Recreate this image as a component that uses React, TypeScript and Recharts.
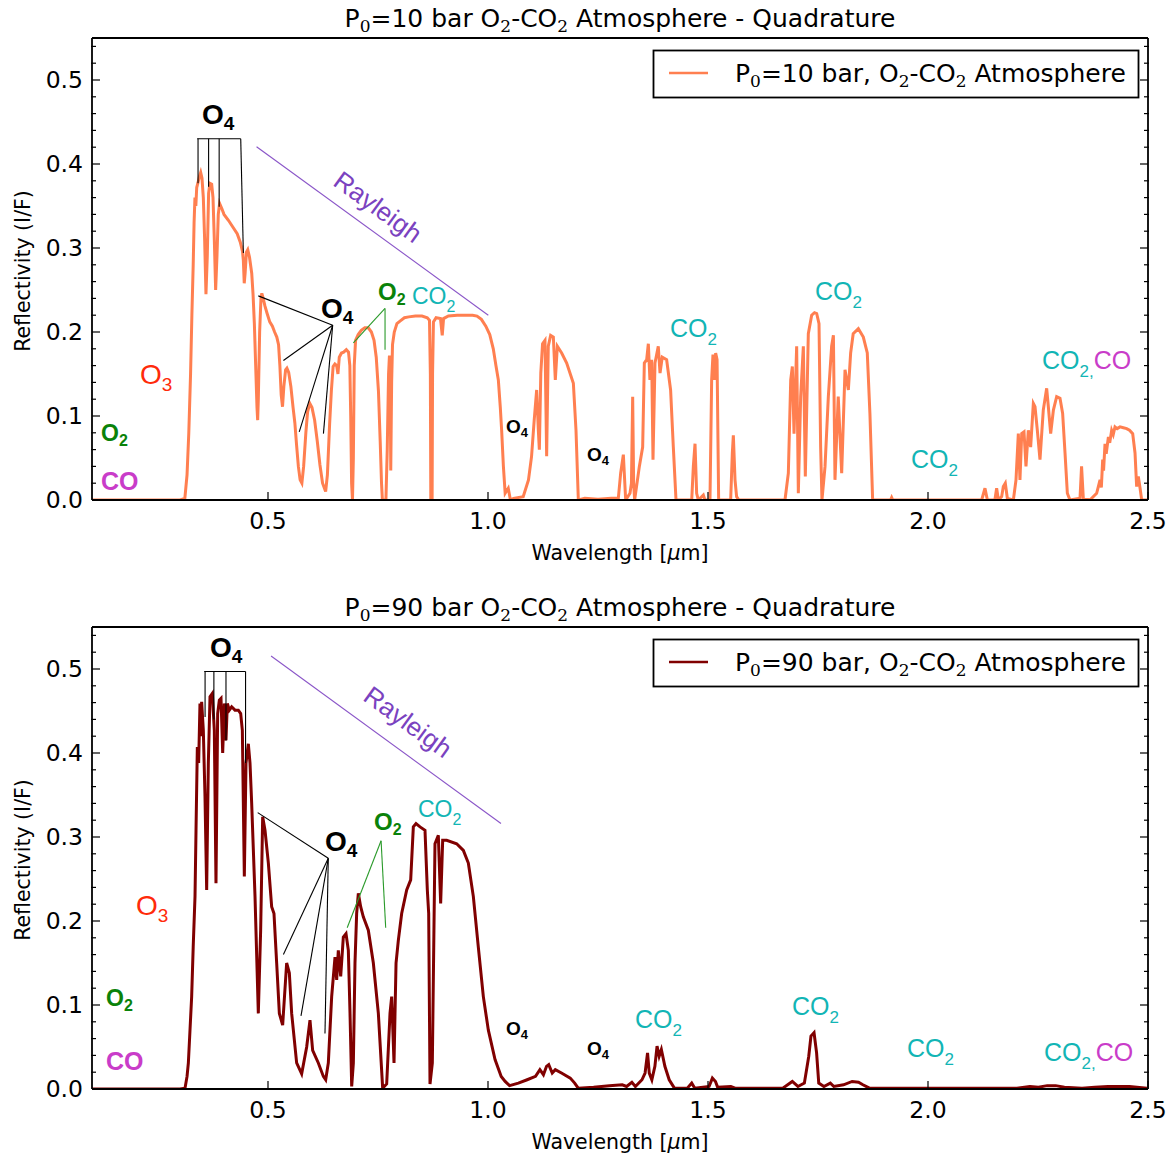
import React from 'react';
import { LineChart, Line, XAxis, YAxis, ReferenceLine } from 'recharts';

type P = [number, number];

// ---------- P0 = 10 bar spectrum (wavelength µm, reflectivity I/F) ----------
const p10UvVis: P[] = [
  [0.10, 0.0], [0.20, 0.0], [0.30, 0.0], [0.311, 0.002], [0.316, 0.03], [0.320, 0.08], [0.324, 0.15],
  [0.327, 0.22], [0.330, 0.28], [0.332, 0.33], [0.334, 0.36], [0.336, 0.35], [0.338, 0.372], [0.341, 0.378],
  [0.344, 0.385], [0.347, 0.39], [0.350, 0.383], [0.353, 0.36], [0.356, 0.31], [0.359, 0.245], [0.362, 0.29],
  [0.365, 0.365], [0.368, 0.377], [0.372, 0.376], [0.375, 0.36], [0.378, 0.31], [0.381, 0.25], [0.384, 0.29],
  [0.387, 0.34], [0.390, 0.353], [0.395, 0.347], [0.40, 0.34], [0.41, 0.333], [0.42, 0.325], [0.43, 0.317],
  [0.437, 0.307], [0.442, 0.296], [0.444, 0.285], [0.446, 0.258], [0.448, 0.27], [0.451, 0.295], [0.454, 0.298],
  [0.458, 0.289], [0.463, 0.27], [0.466, 0.245], [0.469, 0.21], [0.472, 0.16], [0.475, 0.11], [0.4765, 0.095],
  [0.478, 0.12], [0.481, 0.2], [0.484, 0.24], [0.486, 0.246], [0.489, 0.24], [0.493, 0.231], [0.498, 0.222],
  [0.504, 0.212], [0.510, 0.207], [0.515, 0.2], [0.520, 0.194], [0.524, 0.185], [0.527, 0.16], [0.530, 0.125],
  [0.533, 0.111], [0.536, 0.135], [0.540, 0.155], [0.543, 0.157], [0.547, 0.152], [0.552, 0.135], [0.557, 0.11],
  [0.561, 0.092], [0.565, 0.065], [0.569, 0.04], [0.573, 0.024], [0.577, 0.02], [0.581, 0.04], [0.586, 0.08],
  [0.590, 0.105], [0.595, 0.115], [0.600, 0.11], [0.606, 0.095], [0.612, 0.07], [0.618, 0.042], [0.624, 0.02],
  [0.631, 0.01], [0.635, 0.03], [0.640, 0.09], [0.644, 0.13], [0.648, 0.159], [0.652, 0.162], [0.656, 0.16],
  [0.659, 0.15], [0.662, 0.17], [0.667, 0.175], [0.672, 0.176], [0.678, 0.179], [0.683, 0.176], [0.686, 0.16],
  [0.688, 0.1], [0.690, 0.02], [0.692, 0.0], [0.694, 0.05], [0.696, 0.16], [0.699, 0.19], [0.705, 0.197],
  [0.712, 0.202], [0.720, 0.205], [0.728, 0.205], [0.735, 0.2], [0.741, 0.19], [0.746, 0.17], [0.751, 0.13],
  [0.755, 0.07], [0.758, 0.02], [0.760, 0.0], [0.768, 0.0], [0.771, 0.06], [0.774, 0.15], [0.776, 0.172],
  [0.778, 0.12], [0.779, 0.035], [0.781, 0.14], [0.783, 0.185], [0.787, 0.2], [0.793, 0.21], [0.800, 0.213],
  [0.810, 0.217], [0.820, 0.218], [0.835, 0.219], [0.850, 0.219], [0.862, 0.217], [0.867, 0.214], [0.869, 0.15],
  [0.870, 0.0], [0.873, 0.0], [0.874, 0.15], [0.876, 0.212], [0.882, 0.217], [0.892, 0.216], [0.896, 0.196],
  [0.899, 0.216], [0.910, 0.219], [0.930, 0.22], [0.950, 0.22], [0.965, 0.22], [0.975, 0.219], [0.985, 0.215],
  [0.995, 0.207], [1.004, 0.197], [1.012, 0.18], [1.018, 0.16], [1.0235, 0.143], [1.028, 0.11], [1.031, 0.083],
  [1.035, 0.04], [1.039, 0.008],
];

const p10Nir1: P[] = [
  [1.046, 0.014], [1.051, 0.0], [1.058, 0.002], [1.080, 0.004], [1.092, 0.024], [1.099, 0.052], [1.105, 0.095],
  [1.1106, 0.131], [1.1144, 0.083], [1.1167, 0.06], [1.120, 0.151], [1.124, 0.186], [1.1295, 0.19],
  [1.1333, 0.052], [1.137, 0.183], [1.1424, 0.196], [1.1485, 0.194], [1.153, 0.143], [1.1576, 0.183],
  [1.1674, 0.175], [1.1788, 0.163], [1.194, 0.139], [1.200, 0.083], [1.2053, 0.0],
];

const p10Nir2: P[] = [
  [1.22, 0.002], [1.25, 0.001], [1.28, 0.002], [1.2962, 0.002], [1.3015, 0.032], [1.3076, 0.054], [1.3129, 0.0],
  [1.3227, 0.008], [1.326, 0.02], [1.3288, 0.123], [1.331, 0.02], [1.3333, 0.0], [1.344, 0.040], [1.3515, 0.063],
  [1.3553, 0.163], [1.3606, 0.167], [1.3644, 0.186], [1.368, 0.143], [1.372, 0.167], [1.375, 0.048],
  [1.3795, 0.163], [1.387, 0.183], [1.391, 0.151], [1.396, 0.17], [1.406, 0.167], [1.415, 0.131], [1.4212, 0.063],
  [1.4273, 0.0], [1.463, 0.0], [1.4667, 0.04], [1.4705, 0.067], [1.4742, 0.008], [1.478, 0.0], [1.4894, 0.006],
  [1.493, 0.0], [1.5045, 0.0], [1.5083, 0.143], [1.5113, 0.173], [1.5144, 0.143], [1.5174, 0.175],
  [1.5206, 0.167], [1.5242, 0.0], [1.5515, 0.0], [1.5553, 0.056], [1.5576, 0.077], [1.5614, 0.024],
  [1.565, 0.004], [1.57, 0.0],
];

const p10Nir3: P[] = [
  [1.675, 0.0], [1.6826, 0.032], [1.688, 0.143], [1.6917, 0.159], [1.6955, 0.079], [1.7015, 0.183],
  [1.7053, 0.008], [1.7106, 0.123], [1.7167, 0.183], [1.7212, 0.028], [1.728, 0.198], [1.7356, 0.22],
  [1.742, 0.223], [1.747, 0.222], [1.7523, 0.21], [1.756, 0.063], [1.759, 0.0], [1.766, 0.040], [1.7735, 0.123],
  [1.781, 0.183], [1.785, 0.196], [1.7886, 0.024], [1.796, 0.123], [1.8038, 0.032], [1.8114, 0.155],
  [1.819, 0.131], [1.8242, 0.175], [1.830, 0.198], [1.8417, 0.204], [1.853, 0.194], [1.862, 0.175],
  [1.868, 0.103], [1.8742, 0.0],
];

const p10Nir4: P[] = [
  [1.90, 0.0], [1.915, 0.0], [1.9174, 0.003], [1.92, 0.0], [2.122, 0.0], [2.1295, 0.014], [2.135, 0.0],
  [2.152, 0.0], [2.156, 0.014], [2.160, 0.0], [2.1674, 0.004], [2.1712, 0.016], [2.1757, 0.020], [2.1803, 0.002],
  [2.194, 0.0], [2.200, 0.024], [2.2053, 0.079], [2.209, 0.024], [2.213, 0.079], [2.2182, 0.081], [2.2227, 0.040],
  [2.228, 0.083], [2.2333, 0.063], [2.2394, 0.115], [2.2432, 0.111], [2.2485, 0.083], [2.2545, 0.048],
  [2.262, 0.107], [2.2697, 0.133], [2.2735, 0.111], [2.2788, 0.079], [2.285, 0.107], [2.2924, 0.123],
  [2.300, 0.121], [2.306, 0.103], [2.3114, 0.056], [2.3167, 0.008], [2.3227, 0.0], [2.3455, 0.002],
  [2.349, 0.040], [2.353, 0.002], [2.368, 0.0], [2.3833, 0.008], [2.391, 0.024], [2.394, 0.015], [2.397, 0.048],
  [2.399, 0.035], [2.4023, 0.067], [2.405, 0.055], [2.41, 0.075], [2.413, 0.068], [2.4174, 0.083],
  [2.421, 0.078], [2.425, 0.087], [2.43, 0.085], [2.4364, 0.087], [2.444, 0.086], [2.4515, 0.085],
  [2.458, 0.083], [2.4652, 0.079], [2.4705, 0.056], [2.4742, 0.016], [2.478, 0.028], [2.482, 0.014],
  [2.4856, 0.0], [2.50, 0.0],
];

// ---------- P0 = 90 bar spectrum ----------
const p90UvVis: P[] = [
  [0.10, 0.0], [0.20, 0.0], [0.30, 0.0], [0.3114, 0.001], [0.316, 0.015], [0.319, 0.031], [0.3227, 0.07],
  [0.3265, 0.11], [0.330, 0.169], [0.3341, 0.229], [0.3364, 0.308], [0.3394, 0.407], [0.3424, 0.388],
  [0.3454, 0.459], [0.3475, 0.42], [0.3492, 0.461], [0.353, 0.427], [0.3568, 0.348], [0.3606, 0.237],
  [0.3644, 0.388], [0.3682, 0.467], [0.3735, 0.471], [0.378, 0.427], [0.3818, 0.245], [0.3856, 0.447],
  [0.3894, 0.463], [0.3932, 0.465], [0.397, 0.400], [0.4008, 0.459], [0.4045, 0.415], [0.4076, 0.459],
  [0.4121, 0.451], [0.4174, 0.455], [0.425, 0.451], [0.4326, 0.451], [0.4379, 0.447], [0.4417, 0.427],
  [0.4462, 0.253], [0.45, 0.388], [0.4553, 0.411], [0.4591, 0.388], [0.4629, 0.340], [0.4705, 0.229],
  [0.478, 0.090], [0.4833, 0.189], [0.4879, 0.324], [0.4932, 0.308], [0.5008, 0.269], [0.5083, 0.217],
  [0.5136, 0.209], [0.5197, 0.150], [0.5258, 0.090], [0.5333, 0.076], [0.5424, 0.150], [0.5485, 0.138],
  [0.5538, 0.090], [0.5651, 0.031], [0.5765, 0.018], [0.5879, 0.050], [0.5954, 0.082], [0.6015, 0.046],
  [0.6144, 0.031], [0.6258, 0.015], [0.6311, 0.011], [0.6371, 0.031], [0.6447, 0.110], [0.6523, 0.157],
  [0.6561, 0.130], [0.6598, 0.165], [0.6652, 0.134], [0.6712, 0.181], [0.6773, 0.185], [0.6826, 0.165],
  [0.6864, 0.090], [0.6902, 0.003], [0.694, 0.031], [0.6977, 0.150], [0.7015, 0.209], [0.7053, 0.233],
  [0.7106, 0.217], [0.7166, 0.205], [0.728, 0.189], [0.7394, 0.150], [0.7508, 0.090], [0.7606, 0.001],
  [0.7697, 0.006], [0.7773, 0.090], [0.7811, 0.110], [0.7864, 0.031], [0.791, 0.150], [0.7962, 0.177],
  [0.8038, 0.209], [0.8152, 0.237], [0.8243, 0.249], [0.8303, 0.312], [0.8364, 0.316], [0.8455, 0.312],
  [0.8568, 0.308], [0.8621, 0.237], [0.8652, 0.209], [0.8682, 0.006], [0.8735, 0.031], [0.8795, 0.292],
  [0.8871, 0.302], [0.8924, 0.221], [0.8970, 0.296], [0.9061, 0.296], [0.9288, 0.292], [0.944, 0.284],
  [0.9553, 0.269], [0.9667, 0.229], [0.978, 0.169], [0.9894, 0.110], [1.0008, 0.070], [1.016, 0.035],
  [1.030, 0.015], [1.039, 0.009],
];

const p90Nir: P[] = [
  [1.049, 0.004], [1.069, 0.007], [1.089, 0.011], [1.108, 0.015], [1.118, 0.023], [1.126, 0.017],
  [1.133, 0.027], [1.138, 0.029], [1.146, 0.019], [1.153, 0.023], [1.167, 0.019], [1.187, 0.013],
  [1.197, 0.007], [1.205, 0.001], [1.24, 0.002], [1.276, 0.004], [1.305, 0.005], [1.315, 0.003],
  [1.327, 0.008], [1.335, 0.003], [1.35, 0.011], [1.357, 0.019], [1.3626, 0.043], [1.3665, 0.019],
  [1.3724, 0.011], [1.3793, 0.027], [1.3842, 0.051], [1.389, 0.039], [1.394, 0.047], [1.402, 0.027],
  [1.4118, 0.011], [1.4236, 0.001], [1.453, 0.001], [1.463, 0.007], [1.47, 0.001], [1.5025, 0.003],
  [1.51, 0.013], [1.517, 0.009], [1.522, 0.002], [1.552, 0.003], [1.5616, 0.001], [1.67, 0.001],
  [1.6916, 0.009], [1.7044, 0.003], [1.719, 0.007], [1.729, 0.039], [1.734, 0.063], [1.741, 0.067],
  [1.7468, 0.043], [1.7517, 0.007], [1.7635, 0.003], [1.778, 0.007], [1.786, 0.003], [1.808, 0.005],
  [1.8276, 0.009], [1.842, 0.008], [1.852, 0.005], [1.867, 0.001], [2.202, 0.001], [2.2315, 0.003],
  [2.251, 0.002], [2.271, 0.004], [2.29, 0.004], [2.31, 0.002], [2.35, 0.001], [2.379, 0.002],
  [2.409, 0.003], [2.458, 0.003], [2.4975, 0.001],
];

// ---------- ticks ----------
const xMajorTicks = [0.5, 1.0, 1.5, 2.0, 2.5];
const xMinorTicks = [0.2, 0.3, 0.4, 0.6, 0.7, 0.8, 0.9, 1.1, 1.2, 1.3, 1.4, 1.6, 1.7, 1.8, 1.9, 2.1, 2.2, 2.3, 2.4];
const yMajorTicks = [0, 0.1, 0.2, 0.3, 0.4, 0.5];
const yMinorTicks = [0.02, 0.04, 0.06, 0.08, 0.12, 0.14, 0.16, 0.18, 0.22, 0.24, 0.26, 0.28, 0.32, 0.34, 0.36, 0.38, 0.42, 0.44, 0.46, 0.48, 0.52, 0.54];
const xDomain: [number, number] = [0.1, 2.5];
const yDomain: [number, number] = [0, 0.55];

// ---------- annotation segments (data coordinates) ----------
type Seg = { a: P; b: P; color: string };
const p10Segments: Seg[] = [
  { a: [0.339, 0.43], b: [0.438, 0.43], color: '#000' },
  { a: [0.341, 0.43], b: [0.341, 0.377], color: '#000' },
  { a: [0.365, 0.43], b: [0.365, 0.373], color: '#000' },
  { a: [0.389, 0.43], b: [0.389, 0.349], color: '#000' },
  { a: [0.438, 0.43], b: [0.444, 0.294], color: '#000' },
  { a: [0.647, 0.208], b: [0.478, 0.243], color: '#000' },
  { a: [0.647, 0.208], b: [0.535, 0.166], color: '#000' },
  { a: [0.647, 0.208], b: [0.571, 0.081], color: '#000' },
  { a: [0.647, 0.208], b: [0.626, 0.079], color: '#000' },
  { a: [0.766, 0.228], b: [0.694, 0.187], color: '#2a9a2a' },
  { a: [0.766, 0.228], b: [0.766, 0.179], color: '#2a9a2a' },
  { a: [0.474, 0.4206], b: [1.0007, 0.22], color: '#8a55c8' },
];
const p90Segments: Seg[] = [
  { a: [0.355, 0.497], b: [0.449, 0.497], color: '#000' },
  { a: [0.357, 0.497], b: [0.357, 0.443], color: '#000' },
  { a: [0.377, 0.497], b: [0.377, 0.44], color: '#000' },
  { a: [0.4045, 0.497], b: [0.4045, 0.415], color: '#000' },
  { a: [0.449, 0.497], b: [0.449, 0.388], color: '#000' },
  { a: [0.637, 0.2746], b: [0.4766, 0.329], color: '#000' },
  { a: [0.637, 0.2746], b: [0.535, 0.16], color: '#000' },
  { a: [0.637, 0.2746], b: [0.575, 0.087], color: '#000' },
  { a: [0.637, 0.2746], b: [0.6295, 0.066], color: '#000' },
  { a: [0.757, 0.2956], b: [0.68, 0.192], color: '#2a9a2a' },
  { a: [0.757, 0.2956], b: [0.7675, 0.192], color: '#2a9a2a' },
  { a: [0.507, 0.5155], b: [1.0295, 0.316], color: '#8a55c8' },
];

// ---------- annotation labels (pixel positions within a panel) ----------
const BLACK = '#000';
const GREEN = '#0a820a';
const CYAN = '#12b5b5';
const MAGENTA = '#c93cc9';
const RED = '#ff2a0a';
const PURPLE = '#7a42c0';

type Part = { t: string; sub?: boolean; color?: string };
type Anno = { x: number; y: number; size: number; color: string; bold?: boolean; subDy: number; parts: Part[] };

const O4 = (x: number, y: number, size: number): Anno => ({ x, y, size, color: BLACK, bold: true, subDy: 0.2, parts: [{ t: 'O' }, { t: '4', sub: true }] });
const O2 = (x: number, y: number, size: number): Anno => ({ x, y, size, color: GREEN, bold: true, subDy: 0.2, parts: [{ t: 'O' }, { t: '2', sub: true }] });
const CO2 = (x: number, y: number, size: number): Anno => ({ x, y, size, color: CYAN, subDy: 0.33, parts: [{ t: 'CO' }, { t: '2', sub: true }] });
const CO2CO = (x: number, y: number, size: number): Anno => ({ x, y, size, color: CYAN, subDy: 0.33, parts: [{ t: 'CO' }, { t: '2,', sub: true }, { t: 'CO', color: MAGENTA }] });
const O3 = (x: number, y: number, size: number): Anno => ({ x, y, size, color: RED, subDy: 0.25, parts: [{ t: 'O' }, { t: '3', sub: true }] });
const CO = (x: number, y: number, size: number): Anno => ({ x, y, size, color: MAGENTA, bold: true, subDy: 0, parts: [{ t: 'CO' }] });

const p10Labels: Anno[] = [
  O4(202, 124, 28), O4(321, 318, 28), O2(378, 300, 24), CO2(412, 304, 23), O3(140, 384, 28),
  O2(101, 441, 23), CO(101, 490, 25), O4(506, 433, 19), O4(587, 461, 19),
  CO2(670, 337, 25), CO2(815, 300, 25), CO2(911, 468, 25), CO2CO(1042, 369, 25),
];
const p90Labels: Anno[] = [
  O4(210, 68, 28), O4(325, 262, 28), O2(374, 241, 24), CO2(418, 228, 23), O3(136, 326, 28),
  O2(106, 417, 23), CO(106, 481, 25), O4(506, 446, 19), O4(587, 466, 19),
  CO2(635, 439, 25), CO2(792, 426, 25), CO2(907, 468, 25), CO2CO(1044, 472, 25),
];

const toRows = (parts: P[][]) => parts.flat().map(([x, y]) => ({ x, y }));

function AnnoText({ a }: { a: Anno }) {
  let cur = 0;
  return (
    <text x={a.x} y={a.y} fontSize={a.size} fontFamily="'Liberation Sans', Arial, sans-serif" fontWeight={a.bold ? 700 : 400} fill={a.color}>
      {a.parts.map((p, i) => {
        const target = p.sub ? a.size * a.subDy : 0;
        const dy = target - cur;
        cur = target;
        return (
          <tspan key={i} dy={dy} fontSize={p.sub ? Math.round(a.size * 0.68) : a.size} fill={p.color || a.color}>{p.t}</tspan>
        );
      })}
    </text>
  );
}

type MPart = { t: string; sub?: boolean };
function MathText({ x, y, size, parts, anchor }: { x: number; y: number; size: number; parts: MPart[]; anchor?: string }) {
  let cur = 0;
  return (
    <text x={x} y={y} fontSize={size} fontFamily="'DejaVu Sans', sans-serif" fill="#000" textAnchor={anchor as any}>
      {parts.map((p, i) => {
        const target = p.sub ? size * 0.2 : 0;
        const dy = target - cur;
        cur = target;
        return (
          <tspan key={i} dy={dy} fontFamily={p.sub ? "'DejaVu Serif', serif" : undefined} fontSize={p.sub ? Math.round(size * 0.68) : size}>{p.t}</tspan>
        );
      })}
    </text>
  );
}

const W = 1173;
const H = 565;

function Panel({ rows, color, pressure, segments, labels, rayleigh }: { rows: { x: number; y: number }[]; color: string; pressure: string; segments: Seg[]; labels: Anno[]; rayleigh: [number, number] }) {
  const titleParts: MPart[] = [
    { t: 'P' }, { t: '0', sub: true }, { t: `=${pressure} bar O` }, { t: '2', sub: true }, { t: '-CO' }, { t: '2', sub: true }, { t: ' Atmosphere - Quadrature' },
  ];
  const legendParts: MPart[] = [
    { t: 'P' }, { t: '0', sub: true }, { t: `=${pressure} bar, O` }, { t: '2', sub: true }, { t: '-CO' }, { t: '2', sub: true }, { t: ' Atmosphere' },
  ];
  const tickFont = { fontSize: 23.5, fill: '#000', fontFamily: "'DejaVu Sans', sans-serif" };
  const axisStroke = { stroke: '#000', strokeWidth: 1.8 };
  const tickStroke = { stroke: '#000', strokeWidth: 1.2 };
  const blank = () => '';
  return (
    <div style={{ position: 'relative', width: W, height: H }}>
      <LineChart width={W} height={H} margin={{ top: 36, right: 23, bottom: 63, left: 90 }}>
        <XAxis xAxisId="xb" dataKey="x" type="number" domain={xDomain} allowDataOverflow ticks={xMajorTicks} interval={0} height={1} orientation="bottom" tickSize={-8} tickMargin={20} tickFormatter={(v: number) => v.toFixed(1)} tick={tickFont} axisLine={axisStroke} tickLine={tickStroke} />
        <XAxis xAxisId="xbm" type="number" domain={xDomain} allowDataOverflow ticks={xMinorTicks} interval={0} height={1} orientation="bottom" tickSize={-5} tickMargin={0} tickFormatter={blank} axisLine={false} tickLine={tickStroke} />
        <XAxis xAxisId="xt" type="number" domain={xDomain} allowDataOverflow ticks={xMajorTicks} interval={0} height={1} orientation="top" tickSize={-8} tickMargin={0} tickFormatter={blank} axisLine={axisStroke} tickLine={tickStroke} />
        <XAxis xAxisId="xtm" type="number" domain={xDomain} allowDataOverflow ticks={xMinorTicks} interval={0} height={1} orientation="top" tickSize={-5} tickMargin={0} tickFormatter={blank} axisLine={false} tickLine={tickStroke} />
        <YAxis yAxisId="yl" type="number" domain={yDomain} allowDataOverflow ticks={yMajorTicks} interval={0} width={1} orientation="left" tickSize={-8} tickMargin={17} tickFormatter={(v: number) => v.toFixed(1)} tick={tickFont} axisLine={axisStroke} tickLine={tickStroke} />
        <YAxis yAxisId="ylm" type="number" domain={yDomain} allowDataOverflow ticks={yMinorTicks} interval={0} width={1} orientation="left" tickSize={-5} tickMargin={0} tickFormatter={blank} axisLine={false} tickLine={tickStroke} />
        <YAxis yAxisId="yr" type="number" domain={yDomain} allowDataOverflow ticks={yMajorTicks} interval={0} width={1} orientation="right" tickSize={-8} tickMargin={0} tickFormatter={blank} axisLine={axisStroke} tickLine={tickStroke} />
        <YAxis yAxisId="yrm" type="number" domain={yDomain} allowDataOverflow ticks={yMinorTicks} interval={0} width={1} orientation="right" tickSize={-5} tickMargin={0} tickFormatter={blank} axisLine={false} tickLine={tickStroke} />
        <Line xAxisId="xb" yAxisId="yl" data={rows} dataKey="y" type="linear" dot={false} activeDot={false} stroke={color} strokeWidth={3} isAnimationActive={false} />
        {segments.map((s, i) => (
          <ReferenceLine key={i} xAxisId="xb" yAxisId="yl" ifOverflow="visible" segment={[{ x: s.a[0], y: s.a[1] }, { x: s.b[0], y: s.b[1] }]} stroke={s.color} strokeWidth={1.1} />
        ))}
      </LineChart>
      <svg width={W} height={H} style={{ position: 'absolute', left: 0, top: 0, pointerEvents: 'none' }}>
        <MathText x={620} y={27} size={25} parts={titleParts} anchor="middle" />
        <text x={620} y={560} textAnchor="middle" fontSize={20.5} fontFamily="'DejaVu Sans', sans-serif" fill="#000">
          Wavelength [<tspan fontStyle="italic">μ</tspan>m]
        </text>
        <text transform="translate(23,271) rotate(-90)" textAnchor="middle" dominantBaseline="central" fontSize={20.5} fontFamily="'DejaVu Sans', sans-serif" fill="#000">
          Reflectivity (I/F)
        </text>
        <rect x={653.5} y={50.5} width={485} height={47} fill="#fff" stroke="#000" strokeWidth={1.8} />
        <line x1={669} x2={708} y1={73} y2={73} stroke={color} strokeWidth={2.5} />
        <MathText x={735} y={82} size={25} parts={legendParts} />
        {labels.map((a, i) => <AnnoText key={i} a={a} />)}
        <text transform={`translate(${rayleigh[0]},${rayleigh[1]}) rotate(36)`} textAnchor="middle" dominantBaseline="central" fontSize={26} fontFamily="'Liberation Sans', Arial, sans-serif" fill={PURPLE}>
          Rayleigh
        </text>
      </svg>
    </div>
  );
}

export default function App() {
  const rows10 = toRows([p10UvVis, p10Nir1, p10Nir2, p10Nir3, p10Nir4]);
  const rows90 = toRows([p90UvVis, p90Nir]);
  return (
    <div style={{ position: 'absolute', left: 0, top: 0, width: 1173, height: 1154, background: '#fff' }}>
      <div style={{ position: 'absolute', left: 0, top: 0 }}>
        <Panel rows={rows10} color="#ff7f50" pressure="10" segments={p10Segments} labels={p10Labels} rayleigh={[378, 207]} />
      </div>
      <div style={{ position: 'absolute', left: 0, top: 589 }}>
        <Panel rows={rows90} color="#800000" pressure="90" segments={p90Segments} labels={p90Labels} rayleigh={[408, 133]} />
      </div>
    </div>
  );
}
